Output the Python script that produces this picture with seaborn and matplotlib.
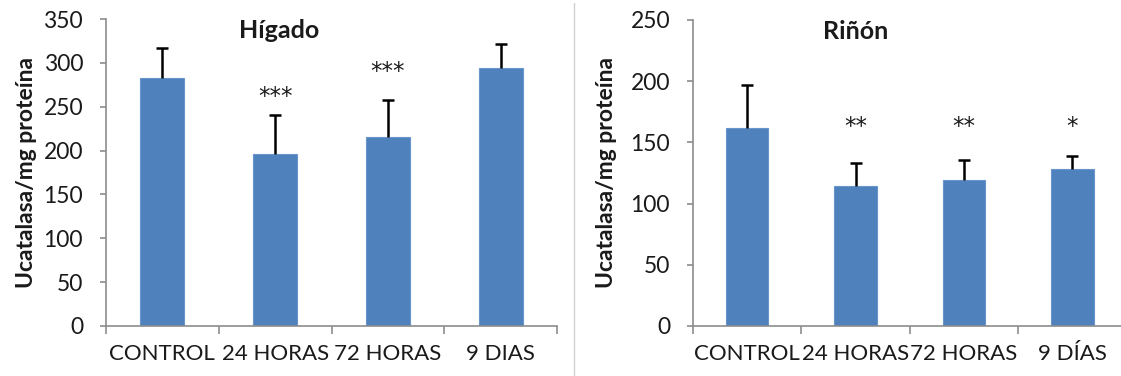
import numpy as np
import pandas as pd
import matplotlib
matplotlib.use("Agg")
import matplotlib.pyplot as plt
from matplotlib.lines import Line2D
import seaborn as sns

# Catalase activity (U catalasa / mg proteína), mean and SD per group
groups_liver = ["CONTROL", "24 HORAS", "72 HORAS", "9 DIAS"]
liver_mean = [283, 196, 216, 294]
liver_sd = [34, 45, 42, 28]
liver_sig = ["", "***", "***", ""]
liver_sig_y = [None, 262, 290, None]

groups_kidney = ["CONTROL", "24 HORAS", "72 HORAS", "9 DÍAS"]
kidney_mean = [162, 114, 119, 128]
kidney_sd = [35, 19, 17, 11]
kidney_sig = ["", "**", "**", "*"]
kidney_sig_y = [None, 163, 163, 163]

liver_ticks = [0, 50, 100, 150, 200, 250, 300, 350]
kidney_ticks = [0, 50, 100, 150, 200, 250]

sns.set_theme(style="white")
plt.rcParams["font.family"] = ["Lato", "DejaVu Sans"]

BAR = "#4f81bd"
SPINE = "#8c8c8c"
TXT = "#1a1a1a"

W, H = 1121, 376
fig = plt.figure(figsize=(W / 100, H / 100), dpi=100)


def panel(rect, cats, mean, sd, sig, sig_y, ticks, title, title_xy, ylab_x):
    ax = fig.add_axes(rect)
    df = pd.DataFrame({"grupo": cats, "valor": mean})
    sns.barplot(data=df, x="grupo", y="valor", order=cats, color=BAR,
                width=0.39, saturation=1, edgecolor="#6a95cc", linewidth=0.8,
                errorbar=None, ax=ax, zorder=2)
    x = np.arange(len(cats))
    _, caps, _ = ax.errorbar(x, mean, yerr=[np.zeros(len(sd)), sd], fmt="none",
                             ecolor="black", elinewidth=1.8, capsize=4.5,
                             capthick=1.8, zorder=3)
    caps[0].set_visible(False)
    for xi, s, yy in zip(x, sig, sig_y):
        if s:
            ax.text(xi, yy, s, ha="center", va="center", fontsize=16.5,
                    color=TXT, family="DejaVu Sans")
    ax.set_xlim(-0.5, len(cats) - 0.5)
    ax.set_ylim(ticks[0], ticks[-1])
    ax.set_yticks(ticks)
    ax.set_xticks(x)
    ax.set_xticks(np.arange(-0.5, len(cats), 1.0), minor=True)
    ax.tick_params(axis="x", which="major", length=0, pad=13,
                   labelsize=16, labelcolor=TXT)
    ax.tick_params(axis="x", which="minor", length=6, width=1.2,
                   color=SPINE, direction="out", bottom=True)
    ax.tick_params(axis="y", length=4.5, width=1.2, color=SPINE,
                   direction="out", left=True, pad=12, labelsize=16.5,
                   labelcolor=TXT)
    for side in ("top", "right"):
        ax.spines[side].set_visible(False)
    for side in ("left", "bottom"):
        ax.spines[side].set_color(SPINE)
        ax.spines[side].set_linewidth(1.2)
    ax.set_xlabel("")
    ax.set_ylabel("Ucatalasa/mg proteína", fontsize=16.5, fontweight="bold",
                  color=TXT)
    ax.yaxis.set_label_coords(ylab_x, 0.5)
    ax.yaxis.label.set_va("center")
    ax.text(title_xy[0], title_xy[1], title, transform=ax.transAxes,
            ha="center", va="center", fontsize=18, fontweight="bold",
            color=TXT)
    ax.set_facecolor("white")
    ax.grid(False)
    return ax


panel([106 / W, 1 - 326 / H, 451 / W, 307 / H], groups_liver, liver_mean,
      liver_sd, liver_sig, liver_sig_y, liver_ticks, "Hígado",
      (0.384, 0.964), -0.177)
panel([693 / W, 1 - 326 / H, 433.6 / W, 306 / H], groups_kidney, kidney_mean,
      kidney_sd, kidney_sig, kidney_sig_y, kidney_ticks, "Riñón",
      (0.376, 0.964), -0.20)

# thin separator between the two charts
fig.add_artist(Line2D([574 / W, 574 / W], [0, 1 - 3 / H], transform=fig.transFigure,
                      color="#d0d0d0", linewidth=1))

fig.savefig("out.png", dpi=100, facecolor="white")
